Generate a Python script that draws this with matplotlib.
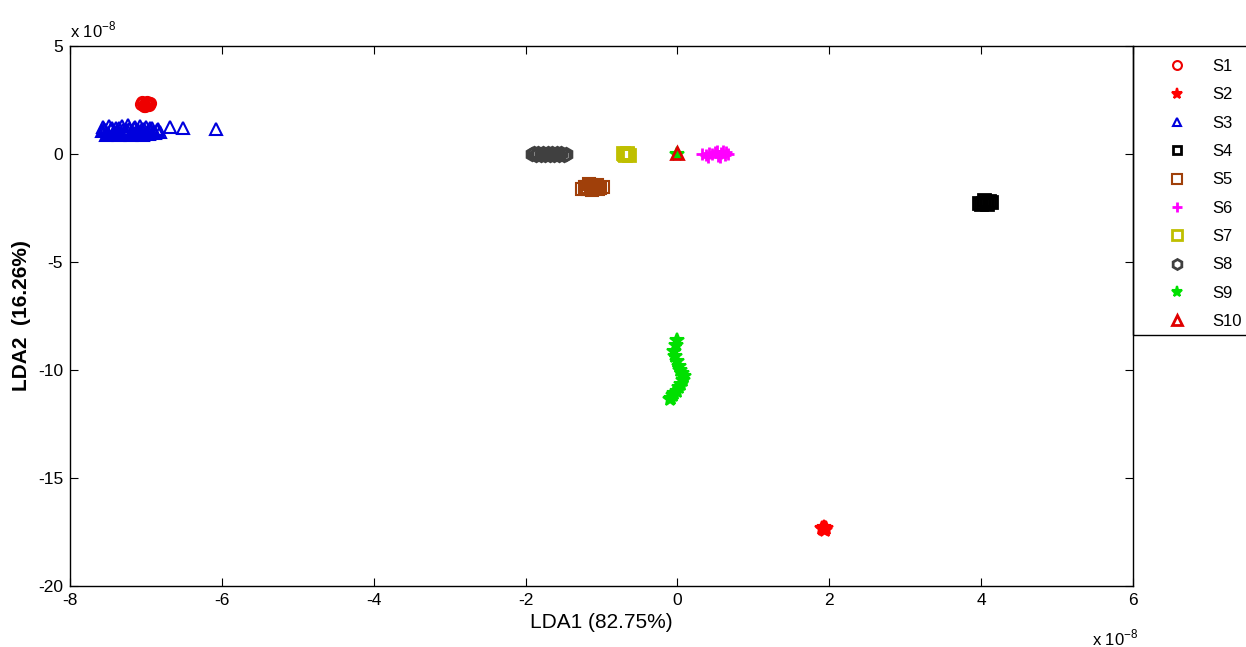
import numpy as np
import matplotlib
matplotlib.use('Agg')
import matplotlib.pyplot as plt
from matplotlib.patches import Rectangle

plt.rcParams['font.family'] = ['Liberation Sans', 'DejaVu Sans']
plt.rcParams['axes.unicode_minus'] = False

# LDA scores, units of 1e-8
s1_x = [-7.06, -7.03, -7.00, -6.97, -6.94, -7.05, -7.02, -6.99, -6.96, -7.04, -7.00, -6.96, -7.01, -6.98]
s1_y = [2.32, 2.28, 2.36, 2.30, 2.34, 2.40, 2.24, 2.42, 2.26, 2.35, 2.30, 2.38, 2.22, 2.33]

s2_x = [1.90, 1.93, 1.96, 1.92, 1.95, 1.94]
s2_y = [-17.30, -17.28, -17.33, -17.36, -17.32, -17.40]

s3_x = [-7.58, -7.54, -7.50, -7.46, -7.42, -7.38, -7.34, -7.30, -7.26, -7.22,
        -7.18, -7.14, -7.10, -7.06, -7.02, -6.98, -6.94, -6.90, -6.86, -6.82,
        -7.56, -7.48, -7.40, -7.32, -7.24, -7.16, -7.08, -7.00, -6.92, -6.84,
        -7.52, -7.44, -7.36, -7.28, -7.20, -7.12, -7.04, -6.96, -6.88,
        -7.55, -7.45, -7.35, -7.25, -7.15, -7.05, -6.95,
        -6.68, -6.51, -6.08]
s3_y = [1.05, 1.10, 0.98, 1.15, 1.02, 1.08, 0.95, 1.12, 1.00, 1.18,
        1.05, 0.98, 1.10, 1.02, 1.15, 0.96, 1.08, 1.00, 1.12, 1.04,
        1.25, 1.30, 1.20, 1.28, 1.32, 1.22, 1.30, 1.26, 1.20, 1.15,
        0.90, 0.92, 0.88, 0.94, 0.90, 0.93, 0.89, 0.92, 0.95,
        1.18, 1.20, 1.22, 1.10, 1.25, 1.18, 1.22,
        1.25, 1.22, 1.15]

s4_x = [3.97, 4.02, 4.06, 4.10, 4.13, 4.08, 4.04, 4.00]
s4_y = [-2.28, -2.25, -2.22, -2.18, -2.20, -2.30, -2.15, -2.32]

s5_x = [-1.26, -1.22, -1.18, -1.14, -1.10, -1.06, -1.02, -0.98, -1.20, -1.12, -1.04, -1.16, -1.08]
s5_y = [-1.60, -1.55, -1.62, -1.45, -1.50, -1.42, -1.58, -1.55, -1.52, -1.65, -1.62, -1.40, -1.48]

s6_x = [0.33, 0.38, 0.42, 0.46, 0.50, 0.54, 0.58, 0.62, 0.66, 0.40, 0.52, 0.60, 0.56, 0.64]
s6_y = [0.00, -0.05, 0.05, 0.00, 0.08, -0.08, 0.03, -0.03, 0.00, -0.15, 0.15, 0.12, -0.12, 0.10]

s7_x = [-0.72, -0.69, -0.66, -0.64, -0.70, -0.67]
s7_y = [0.05, -0.05, 0.02, -0.03, 0.00, 0.06]

s8_x = [-1.92, -1.89, -1.86, -1.83, -1.80, -1.77, -1.74, -1.71, -1.68, -1.65,
        -1.62, -1.59, -1.56, -1.53, -1.50, -1.47]
s8_y = [0.00, 0.06, -0.05, 0.04, -0.06, 0.05, -0.03, 0.06, -0.05, 0.03,
        -0.06, 0.05, -0.04, 0.06, -0.05, 0.02]

s9_x = [0.00, -0.02, -0.04, -0.03, -0.01, 0.02, 0.04, 0.06, 0.08, 0.07,
        0.05, 0.02, -0.01, -0.04, -0.06, -0.08, -0.10, 0.00]
s9_y = [-8.60, -8.85, -9.10, -9.35, -9.60, -9.80, -10.00, -10.15, -10.30, -10.48,
        -10.65, -10.80, -10.95, -11.08, -11.18, -11.28, -11.35, 0.02]

s10_x = [0.0]
s10_y = [0.05]

fig = plt.figure(figsize=(12.46, 6.47), dpi=100)
ax = fig.add_axes([70 / 1246, 1 - 586 / 647, (1133 - 70) / 1246, (586 - 46) / 647])

ax.plot(s1_x, s1_y, 'o', mfc='none', mec='#ee0000', mew=1.5, ms=8, ls='none', label='S1')
ax.plot(s2_x, s2_y, '*', color='#ff0000', mew=1.5, ms=10, ls='none', label='S2')
ax.plot(s3_x, s3_y, '^', mfc='none', mec='#0000dd', mew=1.5, ms=8, ls='none', label='S3')
ax.plot(s4_x, s4_y, 's', mfc='none', mec='black', mew=2, ms=8, ls='none', label='S4')
ax.plot(s5_x, s5_y, 's', mfc='none', mec='#a0400a', mew=1.5, ms=9, ls='none', label='S5')
ax.plot(s6_x, s6_y, '+', color='#ff00ff', mew=2, ms=9, ls='none', label='S6')
ax.plot(s7_x, s7_y, 's', mfc='none', mec='#bfbf00', mew=2, ms=9, ls='none', label='S7')
ax.plot(s8_x, s8_y, 'h', mfc='none', mec='#404040', mew=2, ms=9, ls='none', label='S8')
ax.plot(s9_x, s9_y, '*', color='#00e000', mew=1.5, ms=10, ls='none', label='S9')
ax.plot(s10_x, s10_y, '^', mfc='none', mec='#e00000', mew=2, ms=9, ls='none', label='S10')

ax.set_xlim(-8, 6)
ax.set_ylim(-20, 5)
ax.set_xticks(np.arange(-8, 7, 2))
ax.set_yticks(np.arange(-20, 6, 5))
ax.tick_params(direction='in', top=True, right=True, labelsize=12.5, length=6, pad=5)
for sp in ax.spines.values():
    sp.set_linewidth(1.0)

ax.set_xlabel('LDA1 (82.75%)', fontsize=15, labelpad=4)
ax.set_ylabel('LDA2  (16.26%)', fontsize=15, fontweight='bold', labelpad=5)

fig.text(70 / 1246, 1 - 37 / 647, r'x 10$^{\mathregular{-8}}$', fontsize=12, ha='left', va='baseline')
fig.text(1092 / 1246, 1 - 645 / 647, r'x 10$^{\mathregular{-8}}$', fontsize=12, ha='left', va='baseline')

# legend sits outside the axes, box runs off the right edge
leg = fig.legend(loc='upper left', bbox_to_anchor=(1169 / 1246, 1 - 59 / 647), frameon=False,
                 fontsize=12, handlelength=1.0, handletextpad=1.6, labelspacing=0.80,
                 borderpad=0, borderaxespad=0, markerscale=0.8)
fig.add_artist(Rectangle((1133 / 1246, 1 - 335 / 647), 200 / 1246, (335 - 46) / 647,
                         transform=fig.transFigure, fill=False, ec='black', lw=1.0))

fig.savefig('out.png', dpi=100)
